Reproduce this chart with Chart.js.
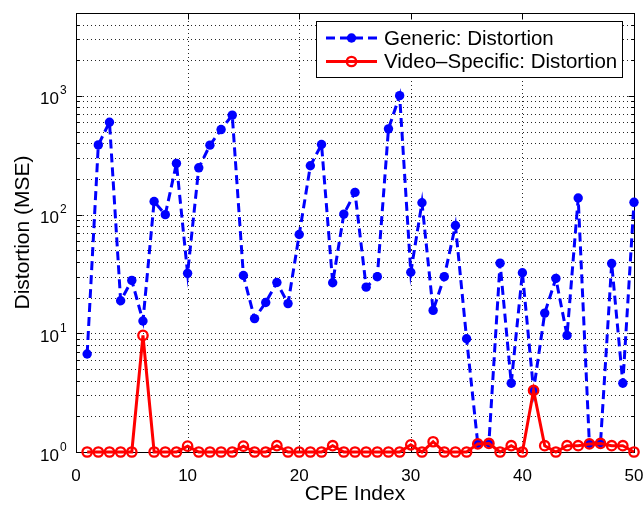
<!DOCTYPE html>
<html>
<head>
<meta charset="utf-8">
<title>Distortion per CPE</title>
<script src="https://cdn.jsdelivr.net/npm/chart.js@4/dist/chart.umd.min.js"></script>
<style>
  html, body { margin: 0; padding: 0; background: #fff; }
  #wrap { width: 643px; height: 505px; }
</style>
</head>
<body>
<div id="wrap"><canvas id="distortionChart" width="643" height="505"></canvas></div>
<script>
// CPE indices on the x axis
const cpeIndex = [1, 2, 3, 4, 5, 6, 7, 8, 9, 10,
                  11, 12, 13, 14, 15, 16, 17, 18, 19, 20,
                  21, 22, 23, 24, 25, 26, 27, 28, 29, 30,
                  31, 32, 33, 34, 35, 36, 37, 38, 39, 40,
                  41, 42, 43, 44, 45, 46, 47, 48, 49, 50];

// MSE for the generic model
const genericDistortion = [6.7, 387, 601, 18.8, 27.9, 12.7, 129, 100, 270, 32,
                           248, 385, 521, 689, 30.7, 13.3, 18.2, 26.8, 17.8, 68,
                           258, 390, 26.7, 101, 154, 24.5, 30, 528, 1006, 32.7,
                           126, 15.6, 30, 81, 9.0, 1.18, 1.2, 39, 3.8, 32.4,
                           3.3, 14.8, 29, 9.6, 138, 1.18, 1.2, 38.7, 3.8, 127];

// MSE for the video-specific model
const videoDistortion = [1, 1, 1, 1, 1, 9.6, 1, 1, 1, 1.12,
                         1, 1, 1, 1, 1.12, 1, 1, 1.13, 1, 1,
                         1, 1, 1.13, 1, 1, 1, 1, 1, 1, 1.15,
                         1, 1.22, 1, 1, 1, 1.17, 1.18, 1, 1.13, 1,
                         3.3, 1.13, 1, 1.13, 1.13, 1.17, 1.18, 1.13, 1.13, 1];

const seriesNames = ['Generic: Distortion', 'Video\u2013Specific: Distortion'];

// axis ticks
const xTicks = [0, 10, 20, 30, 40, 50];
const yDecades = [1, 10, 100, 1000];
const yExponents = ['0', '1', '2', '3'];
const yMultipliers = [1, 2, 3, 4, 5, 6, 7, 8, 9];
const yMax = 5000;

const FONT = '"Liberation Sans", Arial, Helvetica, sans-serif';
const BLUE = 'rgb(0,0,255)';
const RED = 'rgb(255,0,0)';

// every 1..9 x 10^k value up to the top of the axis (log grid)
const yGridValues = [];
yDecades.forEach(d => yMultipliers.forEach(m => {
  if (d * m <= yMax) yGridValues.push(d * m);
}));

const toPoints = arr => arr.map((v, i) => ({ x: cpeIndex[i], y: v }));

// dotted grid, box round the plot, inward ticks and the 10^k labels
const frameTicks = {
  id: 'frameTicks',
  beforeDatasetsDraw(chart) {
    const { ctx, chartArea: a, scales: { x, y } } = chart;
    const L = Math.round(a.left) + 0.5, R = Math.round(a.right) + 0.5;
    const T = Math.round(a.top) + 0.5, B = Math.round(a.bottom) + 0.5;
    ctx.save();

    // grid: 1px dots on whole pixels
    ctx.strokeStyle = 'rgba(0,0,0,0.85)';
    ctx.lineWidth = 1;
    ctx.setLineDash([1, 3]);
    ctx.beginPath();
    xTicks.slice(1, -1).forEach(v => {
      const px = Math.round(x.getPixelForValue(v)) + 0.5;
      ctx.moveTo(px, Math.round(a.bottom) - 2);
      ctx.lineTo(px, Math.round(a.top));
    });
    yGridValues.slice(1).forEach(v => {
      const py = Math.round(y.getPixelForValue(v)) + 0.5;
      ctx.moveTo(Math.round(a.left) + 3, py);
      ctx.lineTo(Math.round(a.right), py);
    });
    ctx.stroke();
    ctx.setLineDash([]);

    // ticks
    ctx.strokeStyle = '#000';
    ctx.beginPath();
    xTicks.forEach(v => {
      const px = Math.round(x.getPixelForValue(v)) + 0.5;
      ctx.moveTo(px, B); ctx.lineTo(px, B - 6);
      ctx.moveTo(px, T); ctx.lineTo(px, T + 6);
    });
    yGridValues.forEach(v => {
      const py = Math.round(y.getPixelForValue(v)) + 0.5;
      const len = yDecades.includes(v) ? 6 : 3;
      ctx.moveTo(L, py); ctx.lineTo(L + len, py);
      ctx.moveTo(R, py); ctx.lineTo(R - len, py);
    });
    ctx.stroke();
    ctx.strokeRect(L, T, R - L, B - T);

    // y labels: 10 with a raised exponent
    ctx.fillStyle = '#000';
    ctx.textBaseline = 'alphabetic';
    yDecades.forEach((v, i) => {
      const py = y.getPixelForValue(v);
      ctx.font = '17px ' + FONT;
      ctx.textAlign = 'right';
      ctx.fillText('10', 59, py + 8.5);
      ctx.font = '12px ' + FONT;
      ctx.textAlign = 'left';
      ctx.fillText(yExponents[i], 60, py - 1.5);
    });
    ctx.restore();
  }
};

// legend box in the upper right of the plot
const insideLegend = {
  id: 'insideLegend',
  afterDraw(chart) {
    const { ctx } = chart;
    const bx = 316.5, by = 21.5, bw = 306, bh = 56;
    ctx.save();
    ctx.fillStyle = '#fff';
    ctx.fillRect(bx, by, bw, bh);
    ctx.strokeStyle = '#000';
    ctx.lineWidth = 1;
    ctx.strokeRect(bx, by, bw, bh);

    const rows = [38, 61.5];
    const x0 = 326, x1 = 377, xm = (x0 + x1) / 2;
    chart.data.datasets.forEach((ds, i) => {
      const yy = rows[i];
      ctx.strokeStyle = ds.borderColor;
      ctx.lineWidth = ds.borderWidth;
      ctx.setLineDash(ds.borderDash || []);
      ctx.beginPath();
      ctx.moveTo(x0, yy); ctx.lineTo(x1, yy);
      ctx.stroke();
      ctx.setLineDash([]);
      ctx.beginPath();
      ctx.arc(xm, yy, ds.pointRadius, 0, Math.PI * 2);
      if (ds.pointBackgroundColor !== 'rgba(0,0,0,0)') {
        ctx.fillStyle = ds.pointBackgroundColor;
        ctx.fill();
      }
      if (ds.pointBorderWidth > 0) {
        ctx.lineWidth = ds.pointBorderWidth;
        ctx.strokeStyle = ds.pointBorderColor;
        ctx.stroke();
      }
      ctx.fillStyle = '#000';
      ctx.font = '20.5px ' + FONT;
      ctx.textBaseline = 'middle';
      ctx.textAlign = 'left';
      ctx.fillText(seriesNames[i], 384, yy + 1);
    });
    ctx.restore();
  }
};

const ctx = document.getElementById('distortionChart').getContext('2d');

new Chart(ctx, {
  type: 'line',
  data: {
    datasets: [
      {
        label: seriesNames[0],
        data: toPoints(genericDistortion),
        borderColor: BLUE,
        borderWidth: 3,
        borderDash: [9, 5],
        pointRadius: 4.7,
        pointBackgroundColor: BLUE,
        pointBorderColor: BLUE,
        pointBorderWidth: 0,
        tension: 0,
        clip: false,
        order: 1
      },
      {
        label: seriesNames[1],
        data: toPoints(videoDistortion),
        borderColor: RED,
        borderWidth: 3,
        pointRadius: 4.7,
        pointBackgroundColor: 'rgba(0,0,0,0)',
        pointBorderColor: RED,
        pointBorderWidth: 2.3,
        tension: 0,
        clip: false,
        order: 0
      }
    ]
  },
  options: {
    responsive: false,
    animation: false,
    layout: { padding: { top: 13, right: 9, left: 0, bottom: 0 } },
    plugins: {
      legend: { display: false },
      tooltip: { enabled: false }
    },
    scales: {
      x: {
        type: 'linear',
        min: 0,
        max: 50,
        afterBuildTicks: scale => { scale.ticks = xTicks.map(v => ({ value: v })); },
        afterFit: scale => {
          scale.height = 53;
          scale.paddingLeft = 0;
          scale.paddingRight = 0;
        },
        grid: { display: false, drawTicks: false },
        border: { display: false },
        ticks: {
          color: '#000',
          font: { family: FONT, size: 17 },
          padding: 14,
          maxRotation: 0
        },
        title: {
          display: true,
          text: 'CPE Index',
          color: '#000',
          font: { family: FONT, size: 21, lineHeight: 1 },
          padding: { top: 0, bottom: 0 }
        }
      },
      y: {
        type: 'logarithmic',
        min: 1,
        max: yMax,
        afterBuildTicks: scale => { scale.ticks = yGridValues.map(v => ({ value: v })); },
        afterFit: scale => {
          scale.width = 76;
          scale.paddingTop = 0;
          scale.paddingBottom = 0;
        },
        grid: { display: false, drawTicks: false },
        border: { display: false },
        ticks: { display: false },
        title: {
          display: true,
          text: 'Distortion (MSE)',
          color: '#000',
          font: { family: FONT, size: 21, lineHeight: 1 },
          padding: { top: 12.5, bottom: 0 }
        }
      }
    }
  },
  plugins: [frameTicks, insideLegend]
});
</script>
</body>
</html>
